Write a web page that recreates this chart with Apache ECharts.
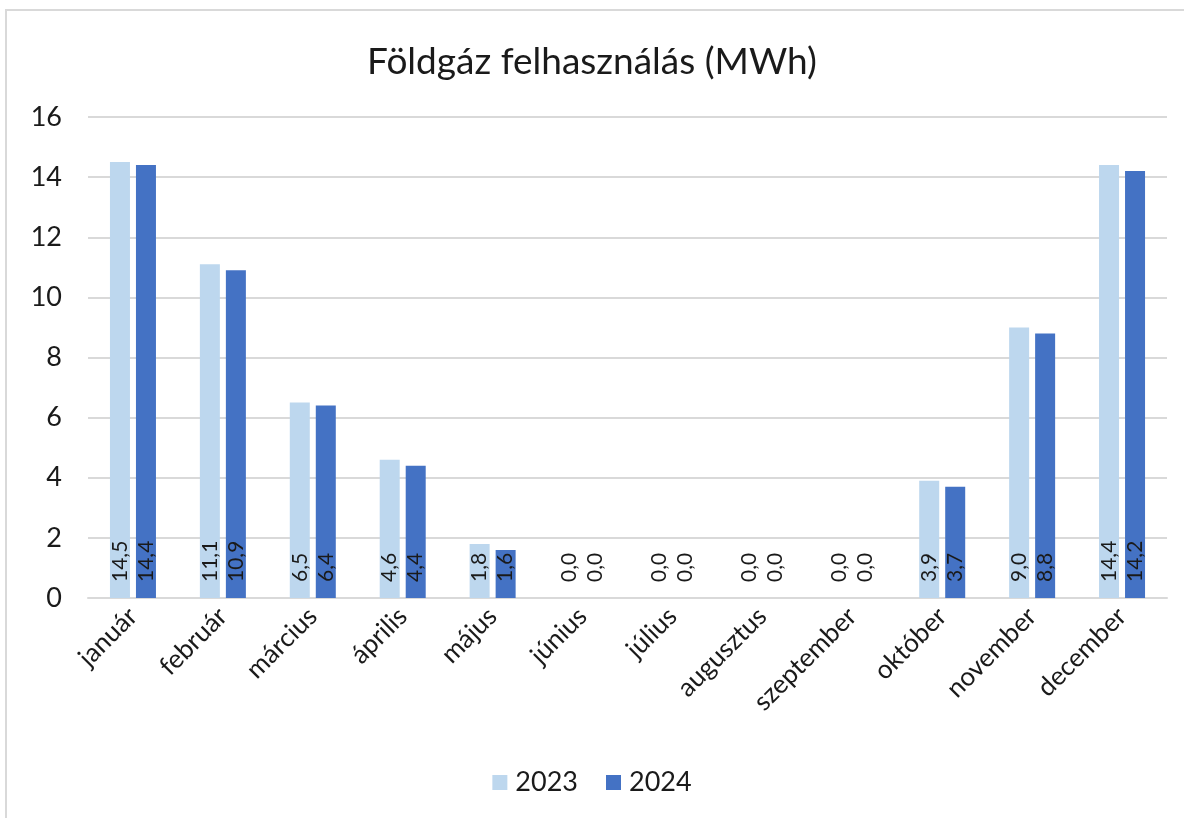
<!DOCTYPE html>
<html>
<head>
<meta charset="utf-8">
<script src="https://cdn.jsdelivr.net/npm/echarts@6/dist/echarts.min.js"></script>
<style>
  html, body { margin: 0; padding: 0; background: #fff; }
  #chart { width: 1184px; height: 818px; }
</style>
</head>
<body>
<div id="chart"></div>
<script>
// hónapok
const months = ["január", "február", "március", "április", "május", "június",
  "július", "augusztus", "szeptember", "október", "november", "december"];
// fogyasztás MWh-ban
const values2023 = [14.5, 11.1, 6.5, 4.6, 1.8, 0, 0, 0, 0, 3.9, 9.0, 14.4];
const values2024 = [14.4, 10.9, 6.4, 4.4, 1.6, 0, 0, 0, 0, 3.7, 8.8, 14.2];
const yTicks = [0, 2, 4, 6, 8, 10, 12, 14, 16];

const font = "Lato, 'Open Sans', sans-serif";
const chart = echarts.init(document.getElementById("chart"));

// vesszős tizedes jel
const fmt = p => p.value.toFixed(1).replace(".", ",");

function barSeries(name, data, color) {
  return {
    name: name,
    type: "bar",
    data: data,
    barWidth: 20,
    barGap: "30%",
    itemStyle: { color: color },
    label: {
      show: true,
      position: "insideBottom",
      rotate: 90,
      align: "left",
      verticalAlign: "middle",
      distance: 16,
      color: "#1a1a1a",
      fontSize: 21,
      fontFamily: font,
      formatter: fmt
    }
  };
}

const option = {
  animation: false,
  title: {
    text: "Földgáz felhasználás (MWh)",
    left: "center",
    top: 39,
    textStyle: { color: "#1a1a1a", fontSize: 37, fontWeight: "normal", fontFamily: font }
  },
  // külső keret
  graphic: [{
    type: "rect",
    shape: { x: 6, y: 10, width: 1200, height: 830 },
    style: { fill: null, stroke: "#d9d9d9", lineWidth: 2 }
  }],
  legend: {
    bottom: 17,
    left: "center",
    itemWidth: 15,
    itemHeight: 15,
    itemGap: 28,
    icon: "rect",
    textStyle: { color: "#1a1a1a", fontSize: 27, fontFamily: font, padding: [0, 0, 0, 3] },
    data: ["2023", "2024"]
  },
  grid: { left: 88, right: 17, top: 117, bottom: 220, containLabel: false },
  xAxis: {
    type: "category",
    data: months,
    axisTick: { show: false },
    axisLine: { lineStyle: { color: "#d9d9d9", width: 2 } },
    axisLabel: {
      rotate: 45,
      interval: 0,
      margin: 14,
      color: "#1a1a1a",
      fontSize: 26,
      fontFamily: font
    }
  },
  yAxis: {
    type: "value",
    min: yTicks[0],
    max: yTicks[yTicks.length - 1],
    interval: 2,
    axisLine: { show: false },
    axisTick: { show: false },
    splitLine: { lineStyle: { color: "#d9d9d9", width: 2 } },
    axisLabel: { color: "#1a1a1a", fontSize: 27, fontFamily: font, margin: 26 }
  },
  series: [
    barSeries("2023", values2023, "#bdd7ee"),
    barSeries("2024", values2024, "#4472c4")
  ]
};
chart.setOption(option);
</script>
</body>
</html>
